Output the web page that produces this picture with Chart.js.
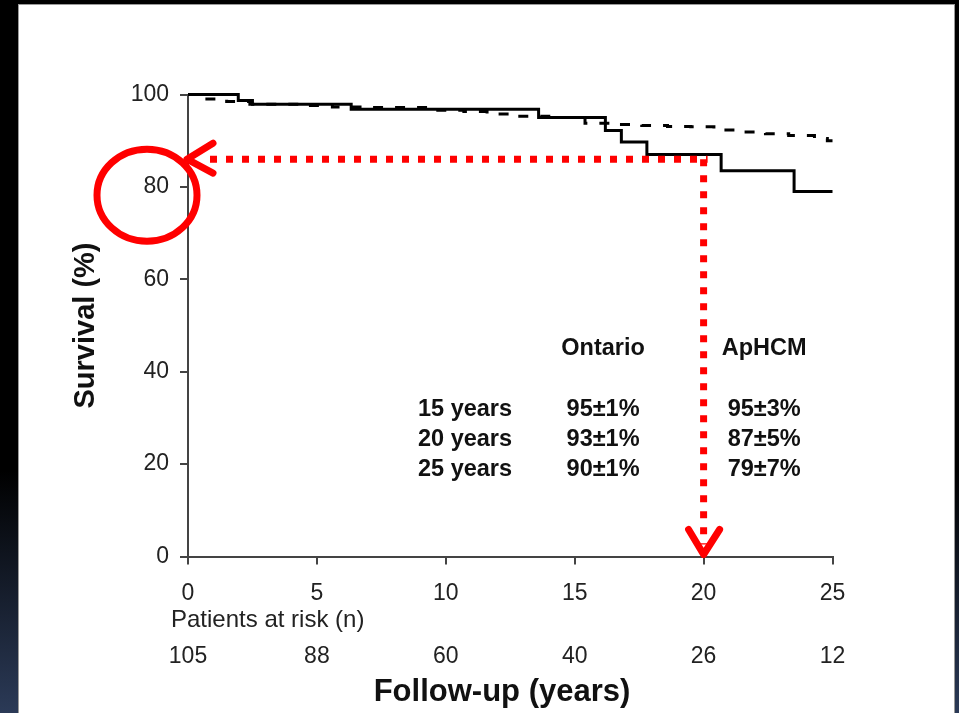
<!DOCTYPE html>
<html>
<head>
<meta charset="utf-8">
<title>Survival (%)</title>
<script src="https://cdn.jsdelivr.net/npm/chart.js@4.4.1/dist/chart.umd.min.js"></script>
<style>
  html, body {
    margin: 0;
    padding: 0;
    width: 959px;
    height: 713px;
    overflow: hidden;
    background: linear-gradient(to bottom, #000 0%, #000 66%, #2b3a57 100%);
  }
  #panel {
    position: absolute;
    left: 18px;
    top: 4px;
    width: 937px;
    height: 709px;
    box-sizing: border-box;
    background: #fff;
    border: 1px solid #9a9a9a;
    border-bottom: none;
  }
  #chart {
    position: absolute;
    left: 0;
    top: 0;
  }
</style>
</head>
<body>
<div id="panel"></div>
<canvas id="chart" width="959" height="713"></canvas>
<script>
// Kaplan-Meier steps: survival holds from each time point until the next one
const APHCM_YEARS = [0, 1.95, 2.5, 6.33, 13.6, 16.19, 16.81, 17.8, 20.68, 23.51, 25];
const APHCM_SURV = [100, 98.7, 97.9, 96.8, 95, 92.2, 89.7, 87, 83.5, 79, 79];

const ONTARIO_YEARS = [0, 0.4, 1.5, 2.4, 4.6, 5.6, 7.0, 9.5, 10.7, 11.6, 12.5, 14.3, 15.4, 16.6, 17.6, 18.6, 19.5, 20.4, 21.3, 22.4, 23.3, 24.3, 24.8, 25];
const ONTARIO_SURV = [100, 99.0, 98.5, 97.9, 97.6, 97.3, 97.2, 96.6, 96.3, 95.8, 95.3, 95.0, 93.8, 93.5, 93.3, 93.1, 93.0, 92.3, 91.9, 91.5, 91.1, 90.5, 90.0, 90.0];

// numbers at risk under the axis
const RISK_YEARS = [0, 5, 10, 15, 20, 25];
const AT_RISK = [105, 88, 60, 40, 26, 12];

// survival table
const TABLE_ROWS = ['15 years', '20 years', '25 years'];
const ONTARIO_PCT = ['95±1%', '93±1%', '90±1%'];
const APHCM_PCT = ['95±3%', '87±5%', '79±7%'];

// red marker: 20 years read across to the y axis
const MARK_YEAR = 20;
const MARK_LEVEL = 86;

const FONT = "'Liberation Sans', Arial, Helvetica, sans-serif";
const RED = '#ff0000';

function toPoints(xs, ys) {
  return xs.map(function (t, i) { return { x: t, y: ys[i] }; });
}

const extras = {
  id: 'extras',
  afterDraw(chart) {
    const ctx = chart.ctx;
    const x = chart.scales.x;
    const y = chart.scales.y;
    ctx.save();

    // patients at risk
    ctx.fillStyle = '#222';
    ctx.font = '24px ' + FONT;
    ctx.textBaseline = 'middle';
    ctx.textAlign = 'left';
    ctx.fillText('Patients at risk (n)', 171, 620);
    ctx.font = '23px ' + FONT;
    ctx.textAlign = 'center';
    RISK_YEARS.forEach(function (t, i) {
      ctx.fillText(String(AT_RISK[i]), x.getPixelForValue(t), 657);
    });

    // x axis title
    ctx.fillStyle = '#111';
    ctx.font = 'bold 31px ' + FONT;
    ctx.fillText('Follow-up (years)', 502, 692);

    // table
    ctx.font = 'bold 23.5px ' + FONT;
    const colOntario = x.getPixelForValue(16.1);
    const colAphcm = x.getPixelForValue(22.35);
    ctx.fillText('Ontario', colOntario, y.getPixelForValue(45.1));
    ctx.fillText('ApHCM', colAphcm, y.getPixelForValue(45.1));
    const rowLevels = [31.9, 25.4, 18.9];
    TABLE_ROWS.forEach(function (label, i) {
      const py = y.getPixelForValue(rowLevels[i]);
      ctx.textAlign = 'left';
      ctx.fillText(label, x.getPixelForValue(8.92), py);
      ctx.textAlign = 'center';
      ctx.fillText(ONTARIO_PCT[i], colOntario, py);
      ctx.fillText(APHCM_PCT[i], colAphcm, py);
    });

    // red dotted guide lines
    const mx = x.getPixelForValue(MARK_YEAR);
    const my = y.getPixelForValue(MARK_LEVEL);
    const y0 = y.getPixelForValue(0);
    ctx.strokeStyle = RED;
    ctx.lineWidth = 7;
    ctx.lineCap = 'butt';
    ctx.setLineDash([7, 9]);
    ctx.beginPath();
    ctx.moveTo(x.left + 22, my);
    ctx.lineTo(mx + 4, my);
    ctx.stroke();
    ctx.beginPath();
    ctx.moveTo(mx, my);
    ctx.lineTo(mx, y0 - 12);
    ctx.stroke();

    // arrow heads
    ctx.setLineDash([]);
    ctx.lineCap = 'round';
    ctx.lineJoin = 'round';
    ctx.beginPath();
    ctx.moveTo(mx - 15, y0 - 27);
    ctx.lineTo(mx, y0 - 2);
    ctx.lineTo(mx + 16, y0 - 27);
    ctx.stroke();
    ctx.beginPath();
    ctx.moveTo(x.left + 25, my - 16);
    ctx.lineTo(x.left - 1, my);
    ctx.lineTo(x.left + 25, my + 14);
    ctx.stroke();

    // circle round the 80 tick
    ctx.beginPath();
    ctx.ellipse(x.left - 41, y.getPixelForValue(78.2), 50, 46, 0, 0, Math.PI * 2);
    ctx.stroke();

    ctx.restore();
  }
};

new Chart(document.getElementById('chart'), {
  type: 'line',
  data: {
    datasets: [
      {
        label: 'ApHCM',
        data: toPoints(APHCM_YEARS, APHCM_SURV),
        stepped: 'before',
        borderColor: '#000',
        borderWidth: 3,
        pointRadius: 0,
        fill: false,
        clip: 6,
      },
      {
        label: 'Ontario',
        data: toPoints(ONTARIO_YEARS, ONTARIO_SURV),
        stepped: 'before',
        borderColor: '#000',
        borderWidth: 3,
        borderDash: [10, 12],
        pointRadius: 0,
        fill: false,
        clip: 6,
      },
    ],
  },
  options: {
    responsive: false,
    animation: false,
    devicePixelRatio: 1,
    layout: {
      padding: { left: 60, top: 94.5, right: 126.5, bottom: 0 },
    },
    plugins: {
      legend: { display: false },
      tooltip: { enabled: false },
    },
    scales: {
      x: {
        type: 'linear',
        min: 0,
        max: 25,
        afterFit: function (scale) { scale.height = 156.5; },
        border: { display: true, color: '#444', width: 2 },
        grid: { drawOnChartArea: false, drawTicks: true, tickLength: 8, color: '#444', lineWidth: 2 },
        ticks: {
          stepSize: 5,
          padding: 15,
          color: '#222',
          font: { family: FONT, size: 23 },
        },
      },
      y: {
        min: 0,
        max: 100,
        afterFit: function (scale) { scale.width = 128; },
        border: { display: true, color: '#444', width: 2 },
        grid: { drawOnChartArea: false, drawTicks: true, tickLength: 8, color: '#444', lineWidth: 2 },
        ticks: {
          stepSize: 20,
          padding: 11,
          color: '#222',
          font: { family: FONT, size: 23 },
        },
        title: {
          display: true,
          text: 'Survival (%)',
          color: '#111',
          font: { family: FONT, size: 29, weight: 'bold' },
          padding: { top: 8.6, bottom: 0 },
        },
      },
    },
  },
  plugins: [extras],
});
</script>
</body>
</html>
